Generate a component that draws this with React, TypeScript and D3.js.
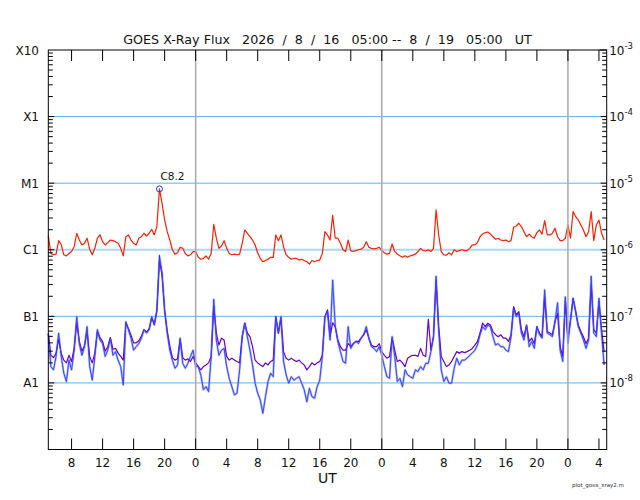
import { useEffect, useRef } from "react";
import * as d3 from "d3";

// time axis: 8/16 05:00 UT -> 8/19 05:00 UT, samples every 20 min
const SPAN_HOURS = 72;
const STEP_HOURS = 1 / 3;
const FIRST_TICK_HOUR = 3; // 08:00 on 8/16
const TICK_EVERY = 4;

const xTickLabels = ["8", "12", "16", "20", "0", "4", "8", "12", "16", "20", "0", "4", "8", "12", "16", "20", "0", "4"];
const dayLineHours = [19, 43, 67];
const flareLevels = [1e-8, 1e-7, 1e-6, 1e-5, 1e-4, 1e-3];
const flareLabels = ["A1", "B1", "C1", "M1", "X1", "X10"];
const rightExponents = [-8, -7, -6, -5, -4, -3];

// 1-8 A channel, in units of 1e-6 W/m^2
const longFlux = [
  1.62, 0.88, 0.84, 0.86, 1.37, 1.2, 0.84, 0.81, 0.88, 0.94, 1.11, 1.77,
  1.4, 1.18, 1.25, 1.49, 1.02, 0.84, 1.05, 1.49, 1.67, 1.32, 1.18, 1.28,
  1.4, 1.37, 1.32, 1.25, 1.05, 0.81, 1.57, 1.67, 1.4, 1.25, 1.18, 1.49,
  1.57, 1.77, 1.61, 1.77, 2.03, 1.67, 2.23, 8.2, 4.97, 2.8, 1.87, 1.4,
  1.0, 0.86, 0.9, 1.09, 1.05, 0.88, 0.81, 0.84, 0.94, 0.94, 0.77, 0.72,
  0.74, 0.81, 0.72, 0.88, 2.4, 1.49, 1.05, 1.14, 1.37, 1.05, 0.88, 0.84,
  0.86, 0.84, 0.86, 1.25, 1.98, 1.77, 1.57, 1.4, 1.18, 0.9, 0.74, 0.66,
  0.69, 0.72, 0.77, 0.77, 1.67, 1.37, 1.67, 1.11, 0.84, 0.77, 0.72, 0.74,
  0.74, 0.7, 0.72, 0.69, 0.66, 0.61, 0.69, 0.66, 0.69, 0.7, 0.88, 1.87,
  1.67, 1.4, 3.3, 1.49, 1.49, 1.25, 1.0, 0.94, 1.4, 0.96, 0.94, 0.97,
  1.0, 1.02, 1.09, 1.32, 1.09, 1.05, 1.03, 1.05, 1.09, 0.97, 0.9, 0.86,
  0.88, 1.22, 0.94, 0.86, 0.81, 0.77, 0.81, 0.77, 0.81, 0.83, 0.86, 0.94,
  1.05, 0.97, 0.96, 1.0, 0.94, 1.05, 3.96, 1.67, 0.94, 0.84, 0.83, 0.9,
  0.84, 1.0, 0.94, 0.97, 1.0, 0.97, 0.97, 1.05, 1.18, 1.18, 1.28, 1.57,
  1.72, 1.81, 1.85, 1.72, 1.57, 1.44, 1.49, 1.4, 1.37, 1.4, 1.32, 1.37,
  2.17, 2.28, 2.5, 2.23, 1.87, 1.57, 1.72, 1.57, 1.49, 1.81, 1.98, 1.72,
  2.74, 1.67, 1.67, 1.77, 2.1, 1.57, 1.37, 1.37, 1.49, 2.36, 1.49, 3.74,
  3.14, 2.8, 2.36, 1.98, 1.57, 1.87, 3.74, 1.37, 2.36, 2.8, 1.77, 1.4,
];

// 0.5-4 A channel (primary), in units of 1e-8 W/m^2
const shortFlux = [
  5.5, 1.76, 1.57, 2.5, 5.6, 2.5, 1.4, 1.05, 2.2, 1.57, 3.1, 9.9,
  3.9, 2.6, 3.5, 7.0, 1.76, 1.1, 2.5, 6.3, 4.4, 3.9, 2.5, 3.1,
  4.7, 2.6, 2.95, 2.2, 1.76, 0.93, 8.3, 6.3, 4.7, 3.1, 3.5, 3.9,
  4.7, 6.3, 5.6, 6.3, 9.9, 7.4, 12.5, 80, 45, 12.5, 5.6, 3.1,
  2.2, 1.66, 1.86, 4.7, 1.97, 1.66, 1.97, 2.5, 3.1, 1.76, 1.76, 1.32,
  0.79, 0.88, 0.74, 2.5, 18, 4.4, 2.6, 3.1, 3.3, 1.76, 1.17, 0.88,
  0.66, 0.7, 1.57, 4.95, 7.9, 4.95, 3.1, 1.86, 0.99, 0.7, 0.55, 0.35,
  0.62, 1.05, 1.4, 1.24, 9.9, 5.6, 9.9, 2.1, 1.32, 0.99, 1.24, 1.1,
  1.17, 1.24, 0.99, 0.79, 0.52, 0.83, 0.62, 0.59, 0.88, 1.1, 2.5, 9.9,
  11.8, 4.4, 35, 7.0, 4.2, 2.95, 2.1, 1.97, 7.0, 3.3, 3.9, 4.2,
  3.9, 4.7, 5.3, 7.0, 4.7, 3.5, 3.3, 2.95, 3.5, 2.6, 1.76, 1.24,
  1.17, 4.95, 2.5, 1.05, 1.17, 0.88, 1.57, 1.32, 1.24, 1.17, 1.57, 1.48,
  1.76, 1.57, 1.97, 1.97, 2.95, 4.95, 40, 6.3, 1.57, 1.05, 1.24, 0.99,
  0.99, 1.66, 2.35, 1.86, 2.2, 2.2, 2.35, 2.6, 2.8, 3.1, 3.7, 5.3,
  7.0, 6.3, 7.4, 7.0, 4.95, 3.7, 3.9, 3.5, 3.5, 3.1, 2.95, 4.95,
  13.2, 9.9, 11.1, 5.6, 4.4, 7.4, 3.5, 4.2, 3.3, 7.0, 5.3, 4.7,
  25, 5.6, 5.3, 4.95, 8.3, 16, 3.1, 2.1, 19.7, 3.9, 8.8, 18.7,
  11.8, 7.0, 5.6, 4.4, 3.3, 4.4, 40, 5.6, 4.95, 18.7, 5.6, 1.86,
];

// 0.5-4 A channel (secondary), in units of 1e-8 W/m^2
const shortFlux2 = [
  5.5, 2.6, 2.4, 2.8, 4.5, 2.8, 2.2, 2.0, 2.6, 2.1, 3.3, 8.0,
  4.2, 3.0, 3.6, 6.0, 2.5, 2.0, 2.8, 6.0, 4.8, 4.2, 3.0, 3.5,
  4.8, 3.2, 3.3, 2.8, 2.5, 2.2, 8.0, 6.5, 5.2, 4.0, 4.0, 4.3,
  5.0, 6.3, 5.8, 6.5, 9.5, 7.5, 12, 70, 42, 12, 6.0, 3.6,
  2.4, 2.2, 2.3, 4.5, 2.4, 2.2, 2.3, 2.1, 2.5, 2.0, 1.76, 1.57,
  1.76, 1.86, 2.0, 2.5, 14, 5.6, 3.7, 4.7, 4.4, 2.5, 2.2, 2.35,
  2.2, 2.1, 2.0, 4.95, 7.9, 5.6, 4.95, 3.5, 2.2, 2.0, 1.86, 1.76,
  2.0, 1.86, 2.1, 2.2, 9.9, 5.6, 9.4, 2.95, 2.35, 2.2, 2.35, 2.2,
  2.1, 2.2, 2.0, 1.86, 1.57, 1.76, 2.0, 1.86, 2.0, 2.1, 2.6, 9.9,
  12.5, 4.95, 8.0, 7.0, 4.4, 3.5, 3.1, 3.1, 3.9, 3.5, 3.9, 4.2,
  4.2, 4.7, 5.3, 6.3, 4.7, 3.7, 3.5, 3.5, 3.9, 2.95, 2.6, 2.35,
  2.5, 4.7, 3.1, 2.1, 2.2, 2.0, 1.76, 2.35, 2.5, 2.6, 2.6, 2.5,
  3.3, 2.6, 2.5, 9.0, 3.1, 4.95, 35, 7.0, 2.5, 2.1, 1.76, 1.86,
  2.1, 2.5, 2.95, 2.8, 2.95, 2.85, 2.95, 3.1, 3.3, 3.7, 4.2, 5.6,
  7.9, 7.0, 7.9, 7.4, 5.9, 5.3, 4.95, 5.3, 4.7, 4.7, 4.2, 5.3,
  14, 10.5, 11.8, 6.3, 4.95, 7.4, 4.2, 4.7, 3.9, 7.0, 5.6, 4.95,
  19.7, 5.9, 5.6, 5.3, 8.3, 11.1, 3.5, 2.5, 17.6, 4.7, 8.8, 18.7,
  11.8, 7.4, 5.9, 4.95, 3.9, 4.7, 30, 6.3, 5.6, 16.6, 6.3, 2.95,
];

const LONG_UNIT = 1e-6;
const SHORT_UNIT = 1e-8;

const COLORS = {
  long: "#ff1e00",
  short: "#3446ff",
  shortHalo: "#8e9bff",
  short2: "#6a00c8",
  grid: "#5cb2f2",
  gridC: "#a9d7fb",
  day: "#a8a8a8",
  text: "#111",
};

const FONT = "'DejaVu Sans', Verdana, sans-serif";
const W = 640;
const H = 500;
const plot = { left: 48.3, right: 606.7, top: 50, bottom: 449.5 };

function flareClass(flux: number) {
  const letters = ["A", "B", "C", "M", "X"];
  const exp = Math.floor(Math.log10(flux));
  const idx = Math.min(4, Math.max(0, exp + 8));
  return `${letters[idx]}${(flux / Math.pow(10, idx - 8)).toFixed(1)}`;
}

export default function App() {
  const svgRef = useRef<SVGSVGElement>(null);

  useEffect(() => {
    if (!svgRef.current) return;
    const svg = d3.select(svgRef.current);
    svg.selectAll("*").remove();

    const x = d3.scaleLinear().domain([0, SPAN_HOURS]).range([plot.left, plot.right]);
    const y = d3.scaleLog().domain([1e-9, 1e-3]).range([plot.bottom, plot.top]);

    svg.append("rect").attr("width", W).attr("height", H).attr("fill", "#fff");

    // ============ GRID ============
    const grid = svg.append("g");
    flareLevels.slice(0, 5).forEach((lvl) => {
      const isC = lvl === 1e-6;
      grid.append("line")
        .attr("x1", plot.left).attr("x2", plot.right)
        .attr("y1", y(lvl)).attr("y2", y(lvl))
        .attr("stroke", isC ? COLORS.gridC : COLORS.grid)
        .attr("stroke-width", isC ? 2.2 : 1);
    });

    // ============ DATA ============
    const lineFor = (unit: number) =>
      d3.line<number>()
        .x((_, i) => x(i * STEP_HOURS))
        .y((d) => y(d * unit));

    const dataG = svg.append("g").attr("fill", "none").attr("stroke-linejoin", "round");
    dataG.append("path").attr("d", lineFor(SHORT_UNIT)(shortFlux))
      .attr("stroke", COLORS.shortHalo).attr("stroke-width", 2.2).attr("opacity", 0.7);
    dataG.append("path").attr("d", lineFor(SHORT_UNIT)(shortFlux2))
      .attr("stroke", COLORS.short2).attr("stroke-width", 1.2);
    dataG.append("path").attr("d", lineFor(SHORT_UNIT)(shortFlux))
      .attr("stroke", COLORS.short).attr("stroke-width", 1);
    dataG.append("path").attr("d", lineFor(LONG_UNIT)(longFlux))
      .attr("stroke", COLORS.long).attr("stroke-width", 1.2);

    // peak marker
    const peakIdx = d3.maxIndex(longFlux);
    const peakFlux = longFlux[peakIdx] * LONG_UNIT;
    const px = x(peakIdx * STEP_HOURS);
    const py = y(peakFlux);
    svg.append("circle")
      .attr("cx", px).attr("cy", py).attr("r", 3)
      .attr("fill", "none").attr("stroke", "#2233ff").attr("stroke-width", 1);
    svg.append("line")
      .attr("x1", px).attr("x2", px)
      .attr("y1", y(1e-6) + 5).attr("y2", y(1e-6) + 10)
      .attr("stroke", "#2233ff").attr("stroke-width", 1);
    svg.append("text")
      .attr("x", px + 1).attr("y", py - 8.5)
      .attr("font-family", FONT).attr("font-size", 10.5).attr("fill", COLORS.text)
      .text(flareClass(peakFlux));

    // ============ DAY LINES ============
    dayLineHours.forEach((h) => {
      svg.append("line")
        .attr("x1", x(h)).attr("x2", x(h))
        .attr("y1", plot.top).attr("y2", plot.bottom)
        .attr("stroke", COLORS.day).attr("stroke-width", 1.5);
    });

    // ============ FRAME & TICKS ============
    const axes = svg.append("g").attr("stroke", "#000").attr("stroke-width", 1);
    axes.append("rect")
      .attr("x", plot.left).attr("y", plot.top)
      .attr("width", plot.right - plot.left).attr("height", plot.bottom - plot.top)
      .attr("fill", "none");

    xTickLabels.forEach((label, i) => {
      const tx = x(FIRST_TICK_HOUR + i * TICK_EVERY);
      axes.append("line").attr("x1", tx).attr("x2", tx)
        .attr("y1", plot.top).attr("y2", plot.top + 11);
      axes.append("line").attr("x1", tx).attr("x2", tx)
        .attr("y1", plot.bottom).attr("y2", plot.bottom - 11);
      svg.append("text")
        .attr("x", tx).attr("y", plot.bottom + 17)
        .attr("text-anchor", "middle")
        .attr("font-family", FONT).attr("font-size", 12).attr("fill", COLORS.text)
        .text(label);
    });

    // log ticks, both sides
    const decades = d3.range(-9, -3);
    decades.forEach((e) => {
      for (let m = 1; m <= 9; m++) {
        const v = m * Math.pow(10, e);
        const ty = y(v);
        const len = m === 1 ? 6 : 4.5;
        axes.append("line").attr("x1", plot.left).attr("x2", plot.left + len)
          .attr("y1", ty).attr("y2", ty);
        axes.append("line").attr("x1", plot.right).attr("x2", plot.right - len)
          .attr("y1", ty).attr("y2", ty);
      }
    });
    axes.append("line").attr("x1", plot.right).attr("x2", plot.right - 7)
      .attr("y1", y(1e-3)).attr("y2", y(1e-3));

    flareLevels.forEach((lvl, i) => {
      svg.append("text")
        .attr("x", 39).attr("y", y(lvl) + 4.5)
        .attr("text-anchor", "end")
        .attr("font-family", FONT).attr("font-size", 12).attr("fill", COLORS.text)
        .text(flareLabels[i]);
    });

    rightExponents.forEach((e) => {
      const t = svg.append("text")
        .attr("x", plot.right + 2.5).attr("y", y(Math.pow(10, e)) + 4.5)
        .attr("font-family", FONT).attr("font-size", 12).attr("fill", COLORS.text);
      t.append("tspan").text("10");
      t.append("tspan").attr("dy", -6).attr("font-size", 8.5).text(`${e}`);
    });

    // ============ TITLES ============
    svg.append("text")
      .attr("x", (plot.left + plot.right) / 2).attr("y", 44)
      .attr("text-anchor", "middle")
      .attr("font-family", FONT).attr("font-size", 12.7).attr("fill", COLORS.text)
      .style("white-space", "pre")
      .text("GOES X-Ray Flux   2026  /  8  /  16   05:00 --  8  /  19   05:00   UT");

    svg.append("text")
      .attr("x", (plot.left + plot.right) / 2).attr("y", 483)
      .attr("text-anchor", "middle")
      .attr("font-family", FONT).attr("font-size", 14).attr("fill", COLORS.text)
      .text("UT");

    svg.append("text")
      .attr("x", 598).attr("y", 487)
      .attr("text-anchor", "middle")
      .attr("font-family", FONT).attr("font-size", 5.5).attr("fill", "#333")
      .text("plot_goes_xray2.m");
  }, []);

  return (
    <svg
      ref={svgRef}
      width={W}
      height={H}
      style={{ position: "absolute", left: 0, top: 0, display: "block" }}
    />
  );
}
